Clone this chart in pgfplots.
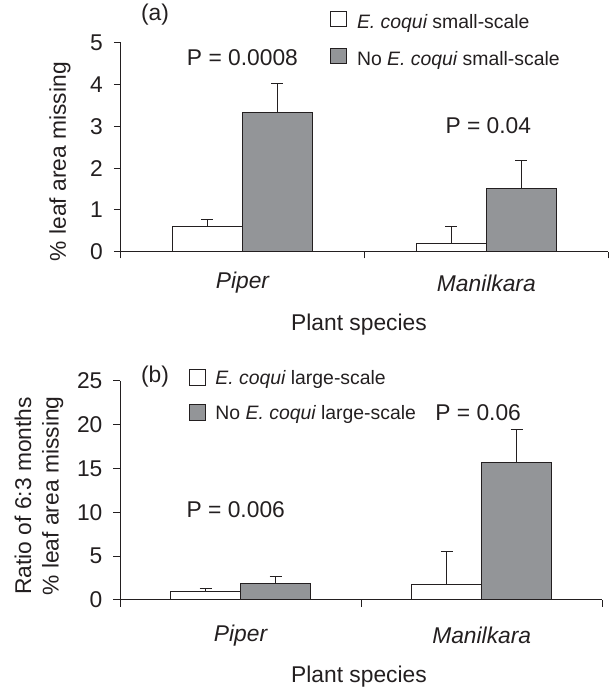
\documentclass[border=0pt]{standalone}
\usepackage{fontspec}
\setmainfont{Liberation Sans}
\usepackage{pgfplots}
\pgfplotsset{compat=1.18}
\definecolor{barg}{RGB}{147,149,152}
\definecolor{ink}{RGB}{35,31,32}
\begin{document}
\fontsize{11.4}{13.7}\selectfont
\begin{tikzpicture}[x=1pt,y=1pt]
\path[use as bounding box] (0pt,0pt) rectangle (305pt,344.5pt);
\pgfplotsset{
  mybars/.style={
    scale only axis,
    anchor=south west,
    axis x line=bottom, axis y line=left,
    x axis line style={-, draw=ink, line width=0.5pt},
    y axis line style={-, draw=ink, line width=0.5pt},
    tick align=outside,
    major tick length=3.3pt,
    tick style={draw=ink, line width=0.5pt},
    xmin=0, xmax=2,
    xtick={0,1,2}, xticklabels={},
    ymin=0,
    ybar=0pt,
    clip=false,
    /pgf/number format/assume math mode=true,
    yticklabel style={font=\fontsize{11.4}{13.7}\selectfont, text=ink, xshift=-1.5pt},
    every axis plot/.append style={draw=ink, line width=0.5pt,
      error bars/y dir=plus, error bars/y explicit,
      error bars/error bar style={draw=ink, line width=0.5pt},
      error bars/error mark options={rotate=90, mark size=3pt, draw=ink, line width=0.5pt}},
  }
}
% ---------- panel (a)
\begin{axis}[mybars, at={(60.25pt,218.65pt)}, width=243.9pt, height=104.5pt,
  ymax=5, ytick={0,1,2,3,4,5}, bar width=0.287]
\addplot[fill=white] coordinates {(0.5,0.61) +- (0,0.15) (1.5,0.20) +- (0,0.41)};
\addplot[fill=barg] coordinates {(0.5,3.33) +- (0,0.70) (1.5,1.52) +- (0,0.67)};
\node[text=ink] at (axis cs:0.5,4.65) {P = 0.0008};
\node[text=ink] at (axis cs:1.508,3.01) {P = 0.04};
\node[text=ink, yshift=-15.65pt] at (axis cs:0.5,0) {\itshape Piper};
\node[text=ink, yshift=-15.65pt] at (axis cs:1.5,0) {\itshape Manilkara};
\end{axis}
% ---------- panel (b)
\begin{axis}[mybars, at={(60pt,44.5pt)}, width=241.15pt, height=109.65pt,
  ymax=25, ytick={0,5,10,15,20,25}, bar width=0.29]
\addplot[fill=white] coordinates {(0.5,0.97) +- (0,0.38) (1.5,1.80) +- (0,3.70)};
\addplot[fill=barg] coordinates {(0.5,1.92) +- (0,0.76) (1.5,15.7) +- (0,3.70)};
\node[text=ink] at (axis cs:0.48,10.26) {P = 0.006};
\node[text=ink] at (axis cs:1.485,21.4) {P = 0.06};
\node[text=ink, yshift=-17.9pt] at (axis cs:0.5,0) {\itshape Piper};
\node[text=ink, yshift=-17.9pt] at (axis cs:1.5,0) {\itshape Manilkara};
\end{axis}
% ---------- texts panel (a)
\node[text=ink] at (77.5pt,337pt) {(a)};
\node[text=ink] at (179.5pt,182.15pt) {Plant species};
\node[text=ink, rotate=90] at (30pt,263.65pt) {\% leaf area missing};
\begin{scope}[font=\fontsize{9.7}{11.6}\selectfont]
\node[draw=ink, fill=white, line width=0.5pt, minimum size=7.6pt, inner sep=0pt] at (169.2pt,334.9pt) {};
\node[draw=ink, fill=barg, line width=0.5pt, minimum size=7.6pt, inner sep=0pt] at (169.2pt,316.6pt) {};
\node[text=ink, anchor=base west, inner sep=0pt] at (178.3pt,330.3pt) {\itshape E. coqui\upshape{} small-scale};
\node[text=ink, anchor=base west, inner sep=0pt] at (178.3pt,311.5pt) {No \itshape E. coqui\upshape{} small-scale};
\end{scope}
% ---------- texts panel (b)
\node[text=ink] at (77.5pt,156.15pt) {(b)};
\node[text=ink] at (179.5pt,6.0pt) {Plant species};
\node[text=ink, rotate=90, align=center] at (19.5pt,96.5pt) {Ratio of 6:3 months\\\% leaf area missing};
\begin{scope}[font=\fontsize{9.7}{11.6}\selectfont]
\node[draw=ink, fill=white, line width=0.5pt, minimum size=7.6pt, inner sep=0pt] at (98.75pt,155.75pt) {};
\node[draw=ink, fill=barg, line width=0.5pt, minimum size=7.6pt, inner sep=0pt] at (98.75pt,138.25pt) {};
\node[text=ink, anchor=base west, inner sep=0pt] at (107.5pt,152pt) {\itshape E. coqui\upshape{} large-scale};
\node[text=ink, anchor=base west, inner sep=0pt] at (107.5pt,134.5pt) {No \itshape E. coqui\upshape{} large-scale};
\end{scope}
\end{tikzpicture}
\end{document}
